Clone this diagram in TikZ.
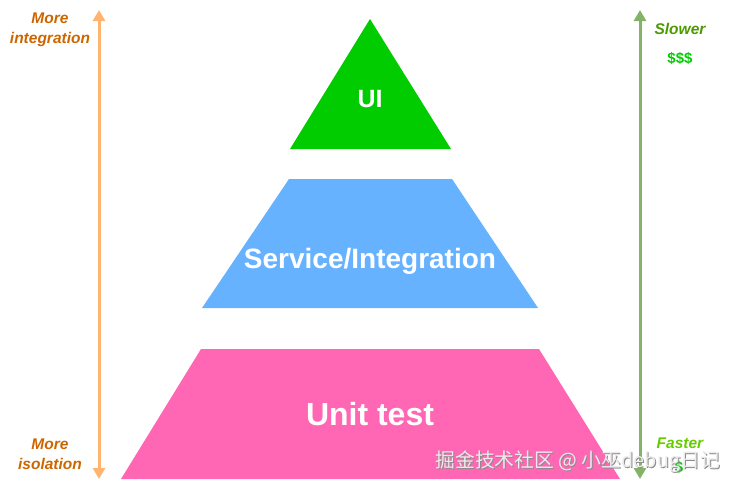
\documentclass[tikz,border=0pt]{standalone}
\usepackage{fontspec}
\setmainfont{Liberation Sans}
\newfontfamily\cjk{Noto Sans CJK SC}
\usetikzlibrary{arrows.meta}
\definecolor{uigreen}{HTML}{00CC00}
\definecolor{svcblue}{HTML}{66B2FF}
\definecolor{unitpink}{HTML}{FF66B3}
\definecolor{lorange}{HTML}{FFB570}
\definecolor{lgreen}{HTML}{82B366}
\definecolor{lbltxt}{HTML}{CC6600}
\definecolor{slowtxt}{HTML}{4D9900}
\definecolor{fasttxt}{HTML}{66CC00}
\tikzset{
  layertext/.style={text=white,font=\bfseries\fontsize{28}{32}\selectfont},
  sidetext/.style={font=\bfseries\itshape\fontsize{15.5}{20}\selectfont,align=center},
  tipkind/.style={{Triangle[length=11pt,width=12pt]}-{Triangle[length=11pt,width=12pt]}},
}
\begin{document}
\begin{tikzpicture}[x=1pt,y=-1pt]
\useasboundingbox (0,0) rectangle (731,490);
% layers
\fill[uigreen] (370,19) -- (451,149) -- (290,149) -- cycle;
\fill[svcblue] (289,179) -- (452,179) -- (538,308) -- (202,308) -- cycle;
\fill[unitpink] (201,349) -- (539,349) -- (620,479) -- (121,479) -- cycle;
\node[layertext,font=\bfseries\fontsize{25}{28}\selectfont] (ui) at (370,99) {UI};
\node[layertext] (svc) at (370,261) {Service/Integration};
\node[layertext,font=\bfseries\fontsize{32}{36}\selectfont] (unit) at (370,414) {Unit test};
% left arrow
\coordinate (ltop) at (99,10);
\coordinate (lbot) at (99,479);
\draw[lorange,line width=3pt,tipkind] (lbot) -- (ltop);
\node[sidetext,text=lbltxt] (mint) at (50,30) {More\\integration};
\node[sidetext,text=lbltxt] (miso) at (50,454) {More\\isolation};
% right arrow
\coordinate (rtop) at (640,10);
\coordinate (rbot) at (640,479);
\draw[lgreen,line width=3pt,tipkind] (rbot) -- (rtop);
\node[sidetext,text=slowtxt] (slow) at (680,29) {Slower};
\node[font=\bfseries\fontsize{15}{17}\selectfont,text=uigreen] (d3) at (680,58) {\$\$\$};
\node[sidetext,text=fasttxt] (fast) at (680,443) {Faster};
\node[font=\bfseries\fontsize{15}{17}\selectfont,text=uigreen] (d1) at (679,467) {\$};
% watermark
\node[font=\cjk\fontsize{19.8}{22}\selectfont,text=black!45,anchor=west] (wms) at (433,463) {掘金技术社区 @ 小巫debug日记};
\node[font=\cjk\fontsize{19.8}{22}\selectfont,text=white!92!black,anchor=west] (wm) at (432,462) {掘金技术社区 @ 小巫debug日记};
\end{tikzpicture}
\end{document}
